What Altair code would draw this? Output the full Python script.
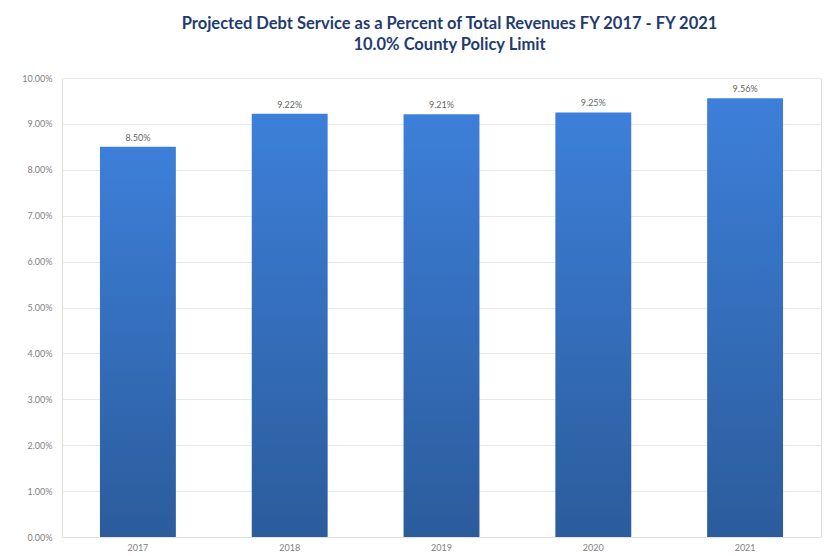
import altair as alt
import pandas as pd

years = ["2017", "2018", "2019", "2020", "2021"]
values = [8.50, 9.22, 9.21, 9.25, 9.56]
labels = ["8.50%", "9.22%", "9.21%", "9.25%", "9.56%"]

df = pd.DataFrame({"year": years, "value": [v / 100 for v in values], "label": labels})

gradient = alt.LinearGradient(
    gradient="linear",
    stops=[alt.GradientStop(color="#3d7fd9", offset=0), alt.GradientStop(color="#2b5c9c", offset=1)],
    x1=0, x2=0, y1=0, y2=1,
)

base = alt.Chart(df).encode(
    x=alt.X("year:N", title=None, sort=years,
            scale=alt.Scale(paddingInner=0.5, paddingOuter=0.25),
            axis=alt.Axis(labelAngle=0, labelFont="Lato", labelFontSize=9, labelColor="#7f7f7f",
                          ticks=False, domain=True, domainColor="#e0e0e0", labelPadding=6)),
    y=alt.Y("value:Q", title=None,
            scale=alt.Scale(domain=[0, 0.10], nice=False),
            axis=alt.Axis(format=".2%", values=[i / 100 for i in range(11)],
                          labelFont="Lato", labelFontSize=9, labelColor="#7f7f7f",
                          ticks=False, domain=False, gridColor="#e8e8e8", labelPadding=10)),
)

bars = base.mark_bar(color=gradient)
text = base.mark_text(dy=-9, font="Lato", fontSize=9, color="#666666").encode(text="label:N")

chart = (bars + text).properties(
    width=759, height=459,
    title=alt.Title(["Projected Debt Service as a Percent of Total Revenues FY 2017 - FY 2021",
                     "10.0% County Policy Limit"],
                    font="Lato", fontSize=16.5, fontWeight="bold", color="#1f3c70",
                    anchor="middle", offset=21, lineHeight=21, dx=8),
    autosize=alt.AutoSizeParams(type="none"),
    padding={"left": 62, "top": 78, "right": 6, "bottom": 19},
).configure_view(stroke=None).configure(background="white")

chart.save("out.html", embed_options={"renderer": "svg", "actions": False})
